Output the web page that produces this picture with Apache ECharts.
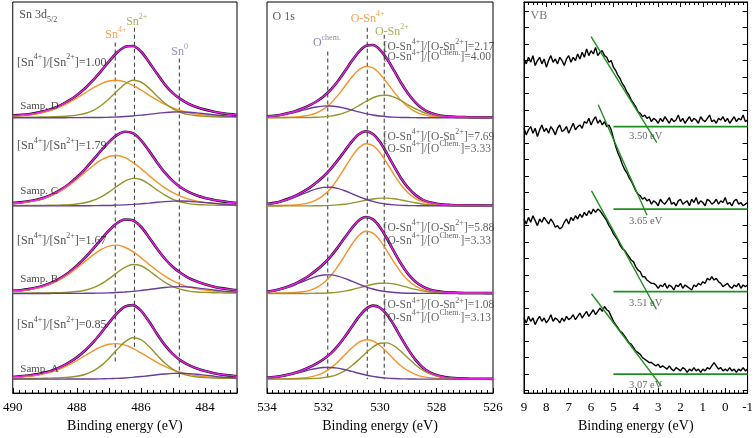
<!DOCTYPE html>
<html><head><meta charset="utf-8">
<script src="https://cdn.jsdelivr.net/npm/echarts@6/dist/echarts.min.js"></script>
<style>html,body{margin:0;padding:0;background:#fff}#c{width:756px;height:438px}</style>
</head><body><div id="c"></div>
<script>
// ---------- Panel 1 : Sn 3d5/2 (binding energy, eV) ----------
const snEnergy = [490,489.75,489.5,489.25,489,488.75,488.5,488.25,488,487.75,487.5,487.25,487,486.75,486.5,486.25,486,485.75,485.5,485.25,485,484.75,484.5,484.25,484,483.75,483.5,483.25,483];
const sn4D = [1.8,2.3,3.0,4.2,5.9,8.2,11.4,15.3,20.0,25.0,30.1,34.4,37.2,38.0,36.3,32.8,28.1,23.0,18.1,13.6,10.0,7.2,5.1,3.7,2.7,2.1,1.6,1.4,1.1];
const sn2D = [0.5,0.6,0.6,0.7,0.9,1.1,1.3,1.8,2.7,4.4,7.4,12.2,19.0,26.9,34.1,37.9,36.2,30.0,22.1,14.7,9.1,5.4,3.2,2.1,1.5,1.1,0.9,0.8,0.7];
const sn0D = [0.1,0.1,0.1,0.1,0.1,0.1,0.1,0.2,0.2,0.3,0.3,0.4,0.6,0.9,1.3,1.9,2.7,3.5,4.5,5.3,5.9,6.0,5.7,5.0,4.1,3.2,2.3,1.7,1.1];
const sn4C = [2.4,3.1,4.1,5.7,7.9,11.1,15.3,20.6,26.8,33.6,40.4,46.2,50.0,50.9,48.8,44.0,37.7,30.9,24.2,18.3,13.5,9.7,6.9,4.9,3.6,2.8,2.2,1.8,1.5];
const sn2C = [0.4,0.4,0.5,0.5,0.6,0.8,1.0,1.3,2.0,3.2,5.5,9.0,14.0,19.8,25.1,27.9,26.7,22.1,16.3,10.9,6.7,4.0,2.4,1.5,1.1,0.8,0.7,0.6,0.5];
const sn0C = [0.1,0.1,0.1,0.1,0.1,0.1,0.1,0.1,0.2,0.2,0.3,0.4,0.5,0.8,1.1,1.6,2.2,2.9,3.7,4.4,4.9,5.0,4.7,4.1,3.4,2.7,2.0,1.4,1.0];
const sn4B = [2.3,2.9,3.9,5.4,7.6,10.6,14.7,19.7,25.8,32.3,38.8,44.3,48.0,49.0,46.8,42.3,36.3,29.6,23.3,17.6,12.9,9.3,6.6,4.8,3.5,2.6,2.1,1.8,1.5];
const sn2B = [0.4,0.4,0.5,0.6,0.7,0.8,1.0,1.4,2.1,3.4,5.8,9.5,14.8,20.9,26.5,29.4,28.1,23.3,17.1,11.4,7.1,4.2,2.5,1.6,1.2,0.9,0.7,0.6,0.5];
const sn0B = [0.1,0.1,0.1,0.1,0.1,0.2,0.2,0.2,0.2,0.3,0.4,0.5,0.7,1.1,1.6,2.2,3.1,4.1,5.2,6.2,6.8,7.0,6.6,5.8,4.8,3.7,2.7,2.0,1.3];
const sn4A = [1.7,2.2,2.9,4.0,5.6,7.8,10.8,14.5,18.9,23.7,28.5,32.6,35.3,36.0,34.4,31.1,26.6,21.8,17.1,12.9,9.5,6.8,4.9,3.5,2.6,1.9,1.5,1.3,1.1];
const sn2A = [0.5,0.6,0.7,0.8,1.0,1.2,1.5,2.0,3.0,4.8,8.2,13.5,21.0,29.7,37.7,41.9,40.0,33.2,24.4,16.3,10.0,6.0,3.6,2.3,1.6,1.3,1.0,0.9,0.8];
const sn0A = [0.1,0.1,0.1,0.1,0.1,0.1,0.1,0.2,0.2,0.3,0.3,0.4,0.6,0.9,1.3,1.9,2.7,3.5,4.5,5.3,5.9,6.0,5.7,5.0,4.1,3.2,2.3,1.7,1.1];
const snRatios = ['1.00','1.79','1.67','0.85'];          // D, C, B, A
const sampleNames = ['Samp. D','Samp. C','Samp. B','Samp. A'];
const snPeakEnergy = [486.8, 486.2, 484.8];               // Sn4+, Sn2+, Sn0

// ---------- Panel 2 : O 1s ----------
const oEnergy = [534,533.75,533.5,533.25,533,532.75,532.5,532.25,532,531.75,531.5,531.25,531,530.75,530.5,530.25,530,529.75,529.5,529.25,529,528.75,528.5,528.25,528,527.75,527.5,527.25,527,526.75,526.5,526.25,526];
const oSn4D = [0.4,0.4,0.5,0.6,0.9,1.6,2.8,5.0,8.8,14.6,22.4,31.7,41.0,48.4,51.9,50.4,44.3,35.5,26.0,17.5,10.9,6.3,3.5,1.9,1.1,0.7,0.6,0.4,0.4,0.3,0.3,0.3,0.2];
const oSn2D = [0.1,0.1,0.1,0.2,0.2,0.3,0.4,0.6,1.0,1.7,3.1,5.3,8.4,12.3,16.5,20.3,22.6,22.8,20.9,17.3,13.2,9.2,5.9,3.5,2.0,1.1,0.6,0.4,0.3,0.2,0.2,0.2,0.1];
const oChemD = [1.0,1.7,2.6,4.0,5.6,7.5,9.4,10.9,11.8,11.9,11.2,9.7,7.9,6.0,4.3,2.9,1.8,1.1,0.7,0.4,0.3,0.2,0.1,0.1,0.1,0.1,0.1,0.1,0.1,0,0,0,0];
const oSn4C = [0.4,0.5,0.6,0.8,1.1,1.9,3.3,6.1,10.7,17.7,27.2,38.4,49.6,58.7,62.9,61.0,53.7,43.0,31.5,21.2,13.2,7.7,4.3,2.3,1.4,0.9,0.7,0.5,0.4,0.4,0.4,0.3,0.3];
const oSn2C = [0,0,0,0.1,0.1,0.1,0.1,0.2,0.3,0.6,1.1,1.8,2.9,4.3,5.8,7.0,7.9,7.9,7.3,6.0,4.6,3.2,2.0,1.2,0.7,0.4,0.2,0.1,0.1,0.1,0.1,0.1,0];
const oChemC = [1.6,2.6,4.2,6.3,8.9,11.9,14.8,17.3,18.8,18.9,17.7,15.4,12.5,9.5,6.8,4.6,2.9,1.8,1.1,0.6,0.4,0.3,0.2,0.2,0.2,0.1,0.1,0.1,0.1,0.1,0.1,0.1,0.1];
const oSn4B = [0.4,0.5,0.6,0.8,1.1,1.9,3.3,6.1,10.7,17.7,27.2,38.4,49.6,58.7,62.9,61.0,53.7,43.0,31.5,21.2,13.2,7.7,4.3,2.3,1.4,0.9,0.7,0.5,0.4,0.4,0.4,0.3,0.3];
const oSn2B = [0.1,0.1,0.1,0.1,0.1,0.1,0.2,0.3,0.4,0.8,1.5,2.5,3.9,5.7,7.7,9.4,10.5,10.6,9.7,8.1,6.1,4.3,2.7,1.6,0.9,0.5,0.3,0.2,0.1,0.1,0.1,0.1,0.1];
const oChemB = [1.6,2.6,4.2,6.3,8.9,11.9,14.8,17.3,18.8,18.9,17.7,15.4,12.5,9.5,6.8,4.6,2.9,1.8,1.1,0.6,0.4,0.3,0.2,0.2,0.2,0.1,0.1,0.1,0.1,0.1,0.1,0.1,0.1];
const oSn4A = [0.3,0.3,0.4,0.5,0.7,1.2,2.1,3.9,6.8,11.2,17.2,24.4,31.5,37.2,39.9,38.8,34.1,27.3,20.0,13.4,8.4,4.9,2.7,1.5,0.9,0.6,0.4,0.3,0.3,0.2,0.2,0.2,0.2];
const oSn2A = [0.2,0.2,0.2,0.3,0.3,0.4,0.6,0.9,1.6,2.8,5.0,8.5,13.6,19.8,26.6,32.6,36.3,36.7,33.6,27.9,21.2,14.7,9.4,5.6,3.2,1.7,1.0,0.6,0.4,0.3,0.3,0.3,0.2];
const oChemA = [1.0,1.7,2.6,4.0,5.6,7.5,9.4,10.9,11.8,11.9,11.2,9.7,7.9,6.0,4.3,2.9,1.8,1.1,0.7,0.4,0.3,0.2,0.1,0.1,0.1,0.1,0.1,0.1,0.1,0,0,0,0];
const oRatioSn = ['2.17','7.69','5.88','1.08'];           // [O-Sn4+]/[O-Sn2+]
const oRatioChem = ['4.00','3.33','3.33','3.13'];         // [O-Sn4+]/[OChem.]
const oPeakEnergy = [531.85, 530.45, 529.85];             // Ochem, O-Sn4+, O-Sn2+

// ---------- Panel 3 : valence band ----------
const vbEnergy = [9.0,8.9,8.8,8.7,8.6,8.5,8.4,8.3,8.2,8.1,8.0,7.9,7.8,7.7,7.6,7.5,7.4,7.3,7.2,7.1,7.0,6.9,6.8,6.7,6.6,6.5,6.4,6.3,6.2,6.1,6.0,5.9,5.8,5.7,5.6,5.5,5.4,5.3,5.2,5.1,5.0,4.9,4.8,4.7,4.6,4.5,4.4,4.3,4.2,4.1,4.0,3.9,3.8,3.7,3.6,3.5,3.4,3.3,3.2,3.1,3.0,2.9,2.8,2.7,2.6,2.5,2.4,2.3,2.2,2.1,2.0,1.9,1.8,1.7,1.6,1.5,1.4,1.3,1.2,1.1,1.0,0.9,0.8,0.7,0.6,0.5,0.4,0.3,0.2,0.1,0.0,-0.1,-0.2,-0.3,-0.4,-0.5,-0.6,-0.7,-0.8,-0.9,-1.0];
const vbD = [20.1,19.8,20.2,19.9,20.3,19.7,20.0,20.2,19.8,20.1,19.6,20.0,20.3,19.9,20.1,19.8,20.2,20.0,19.7,20.1,20.3,19.9,20.2,20.0,20.4,20.1,
  20.5,20.2,20.7,20.3,20.6,20.4,20.8,20.3,20.5,20.6,20.3,
  20.2,19.9,20.0,19.6,19.4,19.1,18.9,18.6,18.4,18.1,17.9,17.6,17.4,17.2,16.9,16.8,16.6,16.7,16.5,
  16.6,16.3,16.5,16.4,16.2,16.5,16.3,16.6,16.4,16.2,16.5,16.3,16.4,16.7,16.3,16.5,16.2,16.4,16.6,16.3,16.5,16.4,16.2,16.6,16.4,16.3,16.5,16.7,16.3,16.4,16.2,16.5,16.4,16.6,16.3,16.5,16.2,16.4,16.6,16.3,16.5,16.4,16.7,16.3,16.4];
const vbC = [15.9,15.5,15.8,16.0,15.6,15.9,15.4,15.8,16.1,15.7,15.9,15.6,16.0,15.8,15.5,15.9,16.1,15.7,15.8,16.0,15.6,15.9,16.2,15.8,16.0,16.1,15.9,16.3,
  16.2,16.5,16.1,16.4,16.6,16.2,16.4,16.1,16.3,16.0,16.1,
  15.8,15.3,14.8,14.4,14.1,13.7,13.4,13.2,12.9,12.7,12.4,12.1,11.9,11.8,11.6,11.7,11.5,
  11.6,11.3,11.5,11.4,11.2,11.6,11.4,11.3,11.5,11.7,11.3,11.4,11.2,11.5,11.6,11.3,11.4,11.5,11.2,11.6,11.4,11.7,11.3,11.5,11.4,11.2,11.6,11.5,11.3,11.4,11.6,11.3,11.5,11.4,11.7,11.3,11.4,11.2,11.5,11.6,11.3,11.4,11.2,11.3,11.4];
const vbB = [10.4,10.1,10.5,10.2,10.6,10.3,10.0,10.4,10.2,10.5,10.3,10.1,10.4,10.2,9.9,10.0,9.8,9.9,
  10.2,10.4,10.1,10.5,10.3,10.6,10.4,10.7,10.5,10.8,10.6,10.9,10.7,11.0,10.8,11.0,
  10.9,10.7,10.5,10.3,10.0,9.8,9.5,9.3,9.1,8.8,8.6,8.5,8.3,8.1,7.9,7.8,7.5,7.3,7.2,6.9,6.9,6.7,6.6,6.5,6.5,
  6.4,6.2,6.4,6.3,6.5,6.2,6.4,6.3,6.1,6.4,6.3,6.5,6.2,6.4,6.3,6.2,6.1,6.4,6.3,6.5,6.4,6.6,6.5,6.8,6.7,6.9,6.7,6.8,6.6,6.5,6.3,6.4,6.5,6.3,6.2,6.4,6.3,6.5,6.2,6.4,6.3,6.4];
const vbA = [4.4,4.1,4.5,4.2,4.4,4.0,4.3,4.5,4.2,4.4,4.1,4.3,4.6,4.2,4.4,4.3,4.1,4.4,4.2,4.5,4.3,
  4.4,4.6,4.3,4.5,4.7,4.4,4.6,4.8,4.5,4.7,4.9,4.6,4.8,5.0,4.8,5.1,4.9,
  4.8,4.5,4.2,4.0,3.8,3.6,3.5,3.3,3.1,2.9,2.8,2.6,2.4,2.3,2.2,2.0,1.9,1.8,1.7,1.7,1.6,1.5,1.6,1.4,1.5,
  1.4,1.3,1.5,1.3,1.2,1.4,1.3,1.2,1.4,1.3,1.1,1.3,1.2,1.4,1.2,1.3,1.1,1.3,1.2,1.4,1.3,1.5,1.7,1.5,1.3,1.4,1.2,1.3,1.2,1.4,1.2,1.3,1.1,1.3,1.2,1.4,1.2,1.3];
const vbBaseline = [16, 11, 6, 1];
const vbTangents = [[[6.0,21.45],[3.06,15.03]], [[5.68,17.32],[3.5,10.63]], [[5.98,12.1],[3.08,4.93]], [[5.98,5.87],[2.86,0.27]]];
const vbEdge = ['3.50 eV','3.65 eV','3.51 eV','3.07 eV'];
const vbBaseStart = 5.0, vbBaseEnd = -1.0;

// ---------- layout / style (kept separate from data) ----------
const FONT = '"Liberation Serif","Times New Roman",serif';
const stackOffset = [278, 189, 100.5, 14];      // vertical offsets of spectra D, C, B, A
const COL = {env:'#e81ce8', sn4:'#f5922a', sn2:'#95952c', sn0:'#6a3d9a', data:'#111', green:'#1f8f1f',
             l4:'#f08a24', l2:'#9a9a30', l0:'#7d70b8', lchem:'#6f62a8'};

const snComp = [[sn4D,sn2D,sn0D],[sn4C,sn2C,sn0C],[sn4B,sn2B,sn0B],[sn4A,sn2A,sn0A]];
const oComp  = [[oSn4D,oSn2D,oChemD],[oSn4C,oSn2C,oChemC],[oSn4B,oSn2B,oChemB],[oSn4A,oSn2A,oChemA]];

function line(ax, data, color, width, extra) {
  return Object.assign({type:'line', xAxisIndex:ax, yAxisIndex:ax, data, showSymbol:false, symbol:'none',
    silent:true, animation:false, lineStyle:{color, width}, z:3}, extra||{});
}
function richFor(size) {
  return {
    b:{fontSize:size, lineHeight:Math.round(size*1.5), fontFamily:FONT},
    sup:{fontSize:Math.round(size*0.68), lineHeight:Math.round(size*0.8), verticalAlign:'top', fontFamily:FONT},
    sub:{fontSize:Math.round(size*0.68), lineHeight:Math.round(size*0.8), verticalAlign:'bottom', fontFamily:FONT}
  };
}
function ann(ax, x, y, text, anchor, color, size) {
  return {type:'scatter', xAxisIndex:ax, yAxisIndex:ax, symbolSize:1, silent:true, animation:false, z:10,
    itemStyle:{color:'rgba(0,0,0,0)'}, data:[[x,y]],
    label:{show:true, position: anchor==='left' ? 'right' : 'inside', distance:0, formatter:text,
      color, fontFamily:FONT, fontSize:size, rich:richFor(size)}};
}
const series = [];

function spectra(ax, energy, comps) {
  comps.forEach((c, s) => {
    const off = stackOffset[s];
    const env = energy.map((x,i) => [x, c[0][i]+c[1][i]+c[2][i]+off]);
    series.push(line(ax, env, COL.data, 2.6, {smooth:0.3, z:2}));
    series.push(line(ax, energy.map((x,i)=>[x,c[0][i]+off]), COL.sn4, 1.4, {smooth:0.3}));
    series.push(line(ax, energy.map((x,i)=>[x,c[1][i]+off]), COL.sn2, 1.4, {smooth:0.3}));
    series.push(line(ax, energy.map((x,i)=>[x,c[2][i]+off]), COL.sn0, 1.4, {smooth:0.3}));
    series.push(line(ax, env, COL.env, 1.5, {smooth:0.3, z:4}));
  });
}
spectra(0, snEnergy, snComp);
spectra(1, oEnergy, oComp);

// dashed reference lines
[[snPeakEnergy[0],354,29],[snPeakEnergy[1],369,45],[snPeakEnergy[2],338,14]].forEach(d =>
  series.push(line(0, [[d[0],d[1]],[d[0],d[2]]], '#444', 1.1, {lineStyle:{color:'#444', width:1.1, type:[4,3]}, z:1})));
[[oPeakEnergy[0],345,14],[oPeakEnergy[1],369,14],[oPeakEnergy[2],362,14]].forEach(d =>
  series.push(line(1, [[d[0],d[1]],[d[0],d[2]]], '#444', 1.1, {lineStyle:{color:'#444', width:1.1, type:[4,3]}, z:1})));

// VB traces
[vbD, vbC, vbB, vbA].forEach((v, s) => {
  series.push(line(2, vbEnergy.map((x,i)=>[x,v[i]]), '#000', 1.4));
  series.push(line(2, [[vbBaseStart, vbBaseline[s]],[vbBaseEnd, vbBaseline[s]]], COL.green, 1.8, {z:4}));
  series.push(line(2, vbTangents[s], COL.green, 1.4, {z:4}));
});

// annotations panel 1
series.push(ann(0, 489.81, 382, '{b|Sn 3d}{sub|5/2}', 'left', '#222', 12));
series.push(ann(0, 486.78, 362, '{b|Sn}{sup|4+}', 'center', COL.l4, 12));
series.push(ann(0, 486.13, 375, '{b|Sn}{sup|2+}', 'center', COL.l2, 12));
series.push(ann(0, 484.79, 345, '{b|Sn}{sup|0}', 'center', COL.l0, 12));
const snRatioY = [334, 250, 154, 69], snSampY = [290, 204, 115, 24];
snRatios.forEach((r, s) => {
  series.push(ann(0, 489.88, snRatioY[s], '{b|[Sn}{sup|4+}{b|]/[Sn}{sup|2+}{b|]=' + r + '}', 'left', '#222', 12));
  series.push(ann(0, 489.78, snSampY[s], '{b|' + sampleNames[s] + '}', 'left', '#222', 11));
});
// annotations panel 2
series.push(ann(1, 533.82, 380, '{b|O 1s}', 'left', '#333', 12));
series.push(ann(1, 530.44, 378, '{b|O-Sn}{sup|4+}', 'center', COL.l4, 12));
series.push(ann(1, 529.58, 365, '{b|O-Sn}{sup|2+}', 'center', COL.l2, 12));
series.push(ann(1, 531.88, 354, '{b|O}{sup|chem.}', 'center', COL.lchem, 12));
const oRatioY1 = [350, 259, 167, 89], oRatioY2 = [339, 247, 154, 76];
oRatioSn.forEach((r, s) => {
  series.push(ann(1, 529.89, oRatioY1[s], '{b|[O-Sn}{sup|4+}{b|]/[O-Sn}{sup|2+}{b|]=' + r + '}', 'left', '#3a3a3a', 11.5));
  series.push(ann(1, 529.89, oRatioY2[s], '{b|[O-Sn}{sup|4+}{b|]/[O}{sup|Chem.}{b|]=' + oRatioChem[s] + '}', 'left', '#3a3a3a', 11.5));
});
// annotations panel 3
series.push(ann(2, 8.73, 22.7, '{b|VB}', 'left', '#555', 12));
const vbLabelY = [15.39, 10.29, 5.31, 0.33];
vbEdge.forEach((t, s) => series.push(ann(2, 3.56, vbLabelY[s], '{b|' + t + '}', 'center', '#444', 10.5)));

const tickStyle = {lineStyle:{color:'#000', width:1}};
function xAx(grid, min, max, interval, split, opts) {
  return Object.assign({type:'value', gridIndex:grid, min, max, interval, inverse:true, position:'bottom',
    axisLine:{show:true, onZero:false, lineStyle:{color:'#000', width:1}},
    axisTick:Object.assign({show:true, inside:true, length:5}, tickStyle),
    minorTick:Object.assign({show:true, splitNumber:split, length:3}, tickStyle),
    splitLine:{show:false}, minorSplitLine:{show:false},
    axisLabel:{color:'#000', fontFamily:FONT, fontSize:13, margin:8},
    name:'Binding energy (eV)', nameLocation:'middle', nameGap:25,
    nameTextStyle:{fontFamily:FONT, fontSize:14, color:'#000'}}, opts||{});
}
const yTicks = [];
for (let k = 0; k <= 23; k++) yTicks.push(k);
function vbY(pos) {
  return {type:'value', gridIndex:2, min:-0.15, max:23.55, position:pos,
    axisLine:{show:true, onZero:false, lineStyle:{color:'#000'}}, axisLabel:{show:false}, splitLine:{show:false},
    axisTick:Object.assign({show:true, inside:true, length:5, customValues:yTicks}, tickStyle)};
}
const option = {
  animation:false,
  backgroundColor:'#fff',
  grid:[
    {left:12, top:2, width:225, height:395, show:true, borderColor:'#000', borderWidth:1, backgroundColor:'rgba(0,0,0,0)'},
    {left:267, top:2, width:226, height:395, show:true, borderColor:'#000', borderWidth:1, backgroundColor:'rgba(0,0,0,0)'},
    {left:524, top:2, width:226, height:395, show:true, borderColor:'#000', borderWidth:1, backgroundColor:'rgba(0,0,0,0)'}
  ],
  xAxis:[
    xAx(0, 483, 490, 1, 5, {axisLabel:{color:'#000', fontFamily:FONT, fontSize:13, margin:8,
      formatter:v => (Math.round(v) % 2 === 0 ? String(Math.round(v)) : '')}}),
    xAx(1, 526, 534, 2, 10),
    xAx(2, -1, 9, 1, 5),
    xAx(2, -1, 9, 1, 5, {position:'top', axisLabel:{show:false}, name:''})
  ],
  yAxis:[
    {type:'value', gridIndex:0, min:0, max:395, show:false},
    {type:'value', gridIndex:1, min:0, max:395, show:false},
    vbY('left'),
    vbY('right')
  ],
  series
};
const chart = echarts.init(document.getElementById('c'));
chart.setOption(option);
</script></body></html>
